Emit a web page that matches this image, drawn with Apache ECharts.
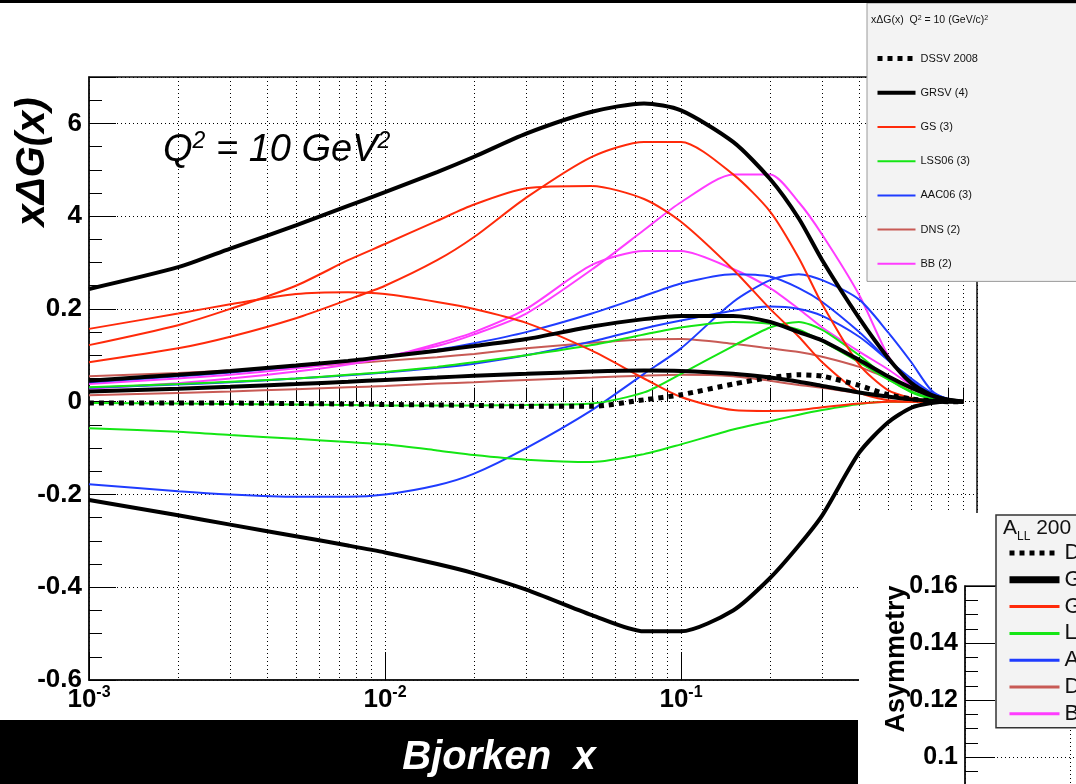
<!DOCTYPE html>
<html>
<head>
<meta charset="utf-8">
<script src="https://cdn.jsdelivr.net/npm/echarts@6/dist/echarts.min.js"></script>
<style>
  html, body { margin: 0; padding: 0; background: #fff; }
  #main { width: 1076px; height: 784px; }
</style>
</head>
<body>
<div id="main"></div>
<script>
// Bjorken x sampling points shared by every curve
const xPoints = [0.001, 0.002, 0.003, 0.005, 0.0075, 0.01, 0.015, 0.02, 0.03, 0.05, 0.075,
                 0.1, 0.15, 0.2, 0.25, 0.3, 0.4, 0.5, 0.6, 0.7, 0.8, 0.9];

// x*DeltaG(x) at Q^2 = 10 GeV^2 for each parametrisation
const dssv2008 = [-0.003, -0.003, -0.003, -0.004, -0.005, -0.006, -0.007, -0.008, -0.01, -0.01, 0.004,
                  0.015, 0.038, 0.052, 0.058, 0.055, 0.035, 0.015, 0.006, 0.002, 0.0, 0.0];

const grsvMax = [0.243, 0.29, 0.33, 0.38, 0.422, 0.452, 0.495, 0.528, 0.578, 0.625, 0.643,
                 0.628, 0.56, 0.48, 0.395, 0.305, 0.18, 0.095, 0.04, 0.015, 0.004, 0.0];
const grsvStd = [0.045, 0.058, 0.066, 0.078, 0.088, 0.097, 0.11, 0.12, 0.135, 0.162, 0.178,
                 0.185, 0.185, 0.172, 0.15, 0.132, 0.09, 0.055, 0.03, 0.013, 0.004, 0.0];
const grsvZero = [0.022, 0.028, 0.032, 0.038, 0.043, 0.047, 0.052, 0.056, 0.06, 0.065, 0.067,
                  0.066, 0.06, 0.052, 0.043, 0.034, 0.02, 0.011, 0.005, 0.002, 0.001, 0.0];
const grsvMin = [-0.212, -0.245, -0.265, -0.29, -0.31, -0.325, -0.35, -0.37, -0.405, -0.46, -0.495,
                 -0.495, -0.45, -0.38, -0.31, -0.245, -0.11, -0.045, -0.013, -0.003, 0.0, 0.0];

const gsA = [0.085, 0.115, 0.14, 0.18, 0.22, 0.25, 0.305, 0.355, 0.44, 0.528, 0.56,
             0.56, 0.49, 0.41, 0.31, 0.21, 0.08, 0.025, 0.008, 0.002, 0.0, 0.0];
const gsB = [0.122, 0.165, 0.2, 0.25, 0.305, 0.34, 0.39, 0.425, 0.46, 0.465, 0.437,
             0.388, 0.285, 0.2, 0.14, 0.085, 0.02, 0.003, 0.0, 0.0, 0.0, 0.0];
const gsC = [0.157, 0.19, 0.21, 0.232, 0.236, 0.232, 0.215, 0.2, 0.17, 0.11, 0.05,
             0.01, -0.018, -0.02, -0.018, -0.012, -0.004, 0.0, 0.0, 0.0, 0.0, 0.0];

const lss06Neg = [-0.057, -0.065, -0.072, -0.08, -0.087, -0.092, -0.105, -0.115, -0.125, -0.13, -0.113,
                  -0.092, -0.06, -0.042, -0.028, -0.018, -0.005, 0.0, 0.0, 0.0, 0.0, 0.0];
const lss06Node = [-0.003, -0.004, -0.005, -0.006, -0.007, -0.008, -0.008, -0.008, -0.007, -0.004, 0.02,
                   0.06, 0.12, 0.16, 0.172, 0.155, 0.1, 0.05, 0.02, 0.006, 0.001, 0.0];
const lss06Pos = [0.031, 0.038, 0.043, 0.05, 0.058, 0.064, 0.075, 0.085, 0.1, 0.122, 0.145,
                  0.16, 0.172, 0.168, 0.155, 0.13, 0.085, 0.048, 0.022, 0.008, 0.002, 0.0];

const aac06A = [0.042, 0.055, 0.063, 0.076, 0.088, 0.097, 0.112, 0.126, 0.15, 0.19, 0.228,
                0.255, 0.275, 0.27, 0.245, 0.215, 0.15, 0.09, 0.045, 0.018, 0.005, 0.0];
const aac06B = [-0.178, -0.193, -0.2, -0.205, -0.205, -0.2, -0.18, -0.155, -0.1, -0.018, 0.06,
                0.115, 0.215, 0.262, 0.275, 0.262, 0.22, 0.15, 0.085, 0.025, 0.005, 0.0];
const aac06C = [0.03, 0.037, 0.042, 0.05, 0.057, 0.063, 0.073, 0.082, 0.1, 0.13, 0.158,
                0.175, 0.196, 0.205, 0.2, 0.185, 0.14, 0.09, 0.05, 0.02, 0.006, 0.0];

const dnsA = [0.055, 0.062, 0.067, 0.075, 0.082, 0.088, 0.096, 0.103, 0.115, 0.127, 0.134,
              0.135, 0.125, 0.115, 0.107, 0.097, 0.075, 0.05, 0.027, 0.012, 0.003, 0.0];
const dnsB = [0.014, 0.019, 0.022, 0.027, 0.031, 0.034, 0.039, 0.042, 0.047, 0.052, 0.056,
              0.058, 0.055, 0.045, 0.036, 0.03, 0.018, 0.01, 0.005, 0.002, 0.001, 0.0];

const bbA = [0.038, 0.05, 0.058, 0.072, 0.085, 0.097, 0.12, 0.145, 0.19, 0.285, 0.37,
             0.43, 0.49, 0.49, 0.43, 0.36, 0.23, 0.1, 0.032, 0.01, 0.002, 0.0];
const bbB = [0.028, 0.04, 0.05, 0.065, 0.08, 0.095, 0.125, 0.15, 0.2, 0.295, 0.325,
             0.325, 0.286, 0.245, 0.2, 0.16, 0.108, 0.07, 0.035, 0.013, 0.003, 0.0];

// legend entries, in display order
const modelNames = ['DSSV 2008', 'GRSV (4)', 'GS (3)', 'LSS06 (3)', 'AAC06 (3)', 'DNS (2)', 'BB (2)'];

// axis tick values (decade exponents) and y tick labels
const xDecades = [-3, -2, -1, 0];
const yTickLabels = { '-0.6': '-0.6', '-0.4': '-0.4', '-0.2': '-0.2', '0': '0', '0.2': '0.2', '0.4': '4', '0.6': '6' };
const insetTickLabels = ['0.1', '0.12', '0.14', '0.16'];

const FONT = '"Liberation Sans", Arial, Helvetica, sans-serif';

// drawing order: later groups are painted on top
const groups = [
  { name: 'DNS (2)',   color: '#c85a55', width: 2, curves: [dnsA, dnsB] },
  { name: 'BB (2)',    color: '#ff3cff', width: 2, curves: [bbA, bbB] },
  { name: 'AAC06 (3)', color: '#1f3cff', width: 2, curves: [aac06A, aac06B, aac06C] },
  { name: 'LSS06 (3)', color: '#14e614', width: 2, curves: [lss06Neg, lss06Node, lss06Pos] },
  { name: 'GS (3)',    color: '#ff2a0a', width: 2, curves: [gsA, gsB, gsC] },
  { name: 'GRSV (4)',  color: '#000000', width: 4, curves: [grsvMax, grsvStd, grsvZero, grsvMin] },
  { name: 'DSSV 2008', color: '#000000', width: 5, type: 'dotted', curves: [dssv2008] }
];

const styleByName = {};
groups.forEach(g => { styleByName[g.name] = g; });

const series = [];
groups.forEach(g => {
  g.curves.forEach(ys => {
    series.push({
      type: 'line',
      name: g.name,
      xAxisIndex: 0,
      yAxisIndex: 0,
      symbol: 'none',
      smooth: 0.25,
      silent: true,
      emphasis: { disabled: true },
      lineStyle: { color: g.color, width: g.width, type: g.type || 'solid', cap: 'butt' },
      itemStyle: { color: g.color },
      // x is placed on a log10 scale
      data: xPoints.map((x, i) => [Math.log10(x), ys[i]])
    });
  });
});

// minor log ticks: 2..9 within each decade
const minorLogTicks = [];
for (let d = -3; d < 0; d++) {
  for (let k = 2; k <= 9; k++) minorLogTicks.push(d + Math.log10(k));
}

const dotted = { type: [1, 3], color: '#000', width: 1 };

// legend keys show only the line sample, no marker
const legendEntries = widthOf => modelNames.map(n => ({
  name: n,
  itemStyle: { opacity: 0 },
  lineStyle: { width: widthOf(n) }
}));

const chart = echarts.init(document.getElementById('main'), null, { renderer: 'canvas' });

chart.setOption({
  animation: false,
  backgroundColor: '#ffffff',
  grid: [
    { left: 89, right: 99, top: 77, bottom: 104, show: true, borderColor: '#111', borderWidth: 1.5,
      backgroundColor: 'transparent', containLabel: false, outerBoundsMode: 'none' },
    { left: 965, top: 586, width: 210, height: 228, show: true, borderColor: '#222', borderWidth: 1.5,
      backgroundColor: 'transparent', containLabel: false, outerBoundsMode: 'none', z: 60 }
  ],
  xAxis: [
    {
      gridIndex: 0, type: 'value', position: 'bottom', min: -3, max: 0, interval: 1,
      axisLine: { show: true, onZero: false, lineStyle: { color: '#111', width: 1.5 } },
      axisTick: { show: true, inside: true, length: 28, lineStyle: { color: '#000', width: 1 } },
      splitLine: { show: true, lineStyle: dotted },
      axisLabel: {
        margin: 5,
        formatter: v => (xDecades.indexOf(v) >= 0 ? '{b|10}{s|' + v + '}' : ''),
        rich: {
          b: { fontSize: 26, fontWeight: 'bold', fontFamily: FONT, color: '#000', lineHeight: 30 },
          s: { fontSize: 16, fontWeight: 'bold', fontFamily: FONT, color: '#000', lineHeight: 16, verticalAlign: 'top' }
        }
      }
    },
    {
      gridIndex: 0, type: 'value', position: 'bottom', offset: 0, min: -3, max: 0,
      axisLine: { show: false },
      axisLabel: { show: false },
      axisTick: { show: true, inside: true, length: 14, customValues: minorLogTicks, lineStyle: { color: '#000', width: 1 } },
      splitLine: { show: true, lineStyle: dotted }
    },
    {
      gridIndex: 1, type: 'value', min: 0, max: 10, interval: 5, z: 60,
      axisLine: { show: false }, axisTick: { show: false }, axisLabel: { show: false },
      splitLine: { show: true, lineStyle: dotted }
    }
  ],
  yAxis: [
    {
      gridIndex: 0, type: 'value', min: -0.6, max: 0.7, interval: 0.2,
      axisLine: { show: true, onZero: false, lineStyle: { color: '#111', width: 1.5 } },
      axisTick: { show: true, inside: true, length: 27, lineStyle: { color: '#000', width: 1 } },
      minorTick: { show: true, splitNumber: 4, length: 13, lineStyle: { color: '#000', width: 1 } },
      splitLine: { show: true, lineStyle: dotted },
      axisLabel: {
        margin: 7, fontSize: 26, fontWeight: 'bold', fontFamily: FONT, color: '#000',
        formatter: v => {
          const key = String(Math.round(v * 10) / 10);
          return yTickLabels[key] !== undefined ? yTickLabels[key] : '';
        }
      }
    },
    {
      gridIndex: 1, type: 'value', min: 0.08, max: 0.16, interval: 0.02, z: 60,
      axisLine: { show: true, onZero: false, lineStyle: { color: '#111', width: 1.5 } },
      axisTick: { show: true, inside: true, length: 30, lineStyle: { color: '#000', width: 1 } },
      minorTick: { show: true, splitNumber: 4, length: 13, lineStyle: { color: '#000', width: 1 } },
      splitLine: { show: true, lineStyle: dotted },
      axisLabel: {
        margin: 7, fontSize: 25, fontWeight: 'bold', fontFamily: FONT, color: '#000',
        formatter: v => {
          const s = String(Math.round(v * 100) / 100);
          return insetTickLabels.indexOf(s) >= 0 ? s : '';
        }
      }
    }
  ],
  legend: [
    {
      orient: 'vertical', left: 867, top: 3,
      padding: [50, 160, 12, 8],
      itemWidth: 38, itemHeight: 14, itemGap: 23,
      backgroundColor: '#f3f3f3', borderColor: '#9a9a9a', borderWidth: 1,
      selectedMode: false,
      textStyle: { fontSize: 11, fontFamily: FONT, color: '#111' },
      data: legendEntries(n => styleByName[n].width)
    },
    {
      orient: 'vertical', left: 996, top: 515, z: 70,
      padding: [27, 220, 3, 10],
      itemWidth: 50, itemHeight: 22, itemGap: 4.8,
      backgroundColor: '#f3f3f3', borderColor: '#333', borderWidth: 1.5,
      selectedMode: false,
      textStyle: { fontSize: 22, fontFamily: FONT, color: '#111' },
      data: legendEntries(n => (n === 'GRSV (4)' ? 7 : (n === 'DSSV 2008' ? 5 : 3)))
    }
  ],
  graphic: {
    elements: [
      // thin dark strip along the top edge
      { type: 'rect', z: 100, shape: { x: 0, y: 0, width: 1076, height: 3 }, style: { fill: '#000' } },
      // x-axis title band
      { type: 'rect', z: 10, shape: { x: 0, y: 720, width: 858, height: 64 }, style: { fill: '#000' } },
      {
        type: 'text', z: 11, x: 499, y: 758,
        style: { text: 'Bjorken  x', fontSize: 40, fontWeight: 'bold', fontStyle: 'italic', fontFamily: FONT,
                 fill: '#fff', align: 'center', verticalAlign: 'middle' }
      },
      // y-axis title
      {
        type: 'text', z: 10, x: 33, y: 162, rotation: Math.PI / 2,
        style: { text: 'x\u0394G(x)', fontSize: 40, fontWeight: 'bold', fontStyle: 'italic', fontFamily: FONT,
                 fill: '#000', align: 'center', verticalAlign: 'middle' }
      },
      // scale annotation inside the frame
      {
        type: 'text', z: 10, x: 163, y: 150,
        style: {
          text: '{a|Q}{s|2}{a| = 10 GeV}{s|2}', align: 'left', verticalAlign: 'middle',
          rich: {
            a: { fontSize: 38, fontStyle: 'italic', fontFamily: FONT, fill: '#000', lineHeight: 40 },
            s: { fontSize: 23, fontStyle: 'italic', fontFamily: FONT, fill: '#000', lineHeight: 24, verticalAlign: 'top' }
          }
        }
      },
      // legend heading
      {
        type: 'text', z: 20, x: 871, y: 20,
        style: {
          text: 'x\u0394G(x)  Q{s|2} = 10 (GeV/c){s|2}', fontSize: 10.5, fontFamily: FONT, fill: '#111',
          align: 'left', verticalAlign: 'middle',
          rich: { s: { fontSize: 7, fontFamily: FONT, fill: '#111', verticalAlign: 'top', lineHeight: 8 } }
        }
      },
      // asymmetry panel background
      { type: 'rect', z: 50, shape: { x: 859, y: 513, width: 217, height: 271 }, style: { fill: '#fff' } },
      {
        type: 'text', z: 80, x: 897, y: 659, rotation: Math.PI / 2,
        style: { text: 'Asymmetry', fontSize: 27, fontWeight: 'bold', fontFamily: FONT, fill: '#000',
                 align: 'center', verticalAlign: 'middle' }
      },
      {
        type: 'text', z: 80, x: 1003, y: 528,
        style: {
          text: 'A{sub|LL} 200', fontSize: 21, fontFamily: FONT, fill: '#111',
          align: 'left', verticalAlign: 'middle',
          rich: { sub: { fontSize: 12, fontFamily: FONT, fill: '#111', verticalAlign: 'bottom', lineHeight: 12, padding: [0, 0, -4, 0] } }
        }
      }
    ]
  },
  series: series
});
</script>
</body>
</html>
